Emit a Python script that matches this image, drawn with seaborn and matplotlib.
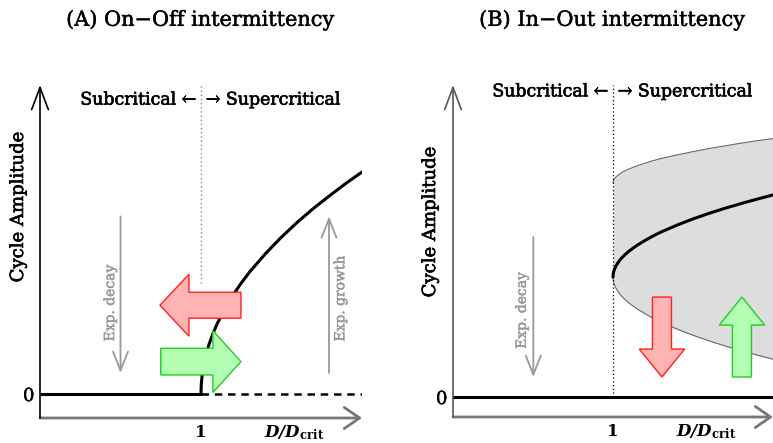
import numpy as np
import pandas as pd
import matplotlib
matplotlib.use("Agg")
import matplotlib.pyplot as plt
import matplotlib.patheffects as pe
import seaborn as sns

# ---------------- data ----------------
# Panel A: supercritical branch (amplitude vs D/Dcrit)
a_D = [1.0, 1.001, 1.003, 1.006, 1.01, 1.02, 1.035, 1.05, 1.075, 1.1, 1.15,
       1.2, 1.25, 1.3, 1.4, 1.5, 1.6, 1.7, 1.8, 1.9, 2.0]
a_amp = [0.0, 0.032, 0.055, 0.077, 0.1, 0.141, 0.187, 0.224, 0.274, 0.316, 0.387,
         0.447, 0.5, 0.548, 0.632, 0.707, 0.775, 0.837, 0.894, 0.949, 1.0]
a_zero_solid_D = [0.0, 1.0]
a_zero_dashed_D = [1.0, 2.0]

# Panel B: cycle branch and shaded band
b_D = [1.0, 1.001, 1.003, 1.006, 1.01, 1.02, 1.035, 1.05, 1.075, 1.1, 1.15,
       1.2, 1.25, 1.3, 1.4, 1.5, 1.6, 1.7, 1.8, 1.9, 2.0]
b_mid = [0.54, 0.552, 0.56, 0.568, 0.577, 0.592, 0.609, 0.623, 0.641, 0.657, 0.683,
         0.705, 0.725, 0.743, 0.774, 0.802, 0.827, 0.85, 0.871, 0.891, 0.91]
b_low = [0.54, 0.528, 0.52, 0.512, 0.503, 0.488, 0.471, 0.457, 0.439, 0.423, 0.397,
         0.375, 0.355, 0.337, 0.306, 0.278, 0.253, 0.23, 0.209, 0.189, 0.17]
b_up = [0.964, 0.97, 0.975, 0.979, 0.984, 0.992, 1.001, 1.009, 1.019, 1.027, 1.041,
        1.053, 1.064, 1.074, 1.09, 1.105, 1.119, 1.131, 1.143, 1.154, 1.164]
b_zero_D = [0.0, 2.0]

titles = ["(A) On\u2212Off intermittency", "(B) In\u2212Out intermittency"]
xtick_labels = ["1"]
ytick_labels = ["0"]
xlabel = r"$\mathbfit{D/D}_{\mathbf{crit}}$"
ylabel = "Cycle Amplitude"

sns.set_theme(style="white")
plt.rcParams["font.family"] = ["DejaVu Serif", "DejaVu Sans"]
plt.rcParams["mathtext.fontset"] = "dejavuserif"
plt.rcParams["text.color"] = "black"
plt.rcParams["xtick.color"] = "black"
plt.rcParams["ytick.color"] = "black"

fig = plt.figure(figsize=(7.73, 4.43), dpi=100)
axA = fig.add_axes([40 / 773, 25 / 443, 322 / 773, 333 / 443])
axB = fig.add_axes([453 / 773, 26 / 443, 320 / 773, 332 / 443])

GRAY_TXT = "#999999"
HEAVY = [pe.withStroke(linewidth=0.45, foreground="black")]
HEAVY_T = [pe.withStroke(linewidth=0.3, foreground="black")]
HEAVY_G = [pe.withStroke(linewidth=0.35, foreground=GRAY_TXT)]


def frame(ax, ymin, ymax, ycol):
    ax.set_xlim(0, 2)
    ax.set_ylim(ymin, ymax)
    for s in ax.spines.values():
        s.set_visible(False)
    ax.set_xticks([1.0])
    ax.set_xticklabels(xtick_labels, fontsize=12, fontweight="bold")
    ax.set_yticks([0.0])
    ax.set_yticklabels(ytick_labels, fontsize=13)
    for t in ax.get_yticklabels():
        t.set_path_effects(HEAVY_T)
    ax.tick_params(axis="x", direction="in", length=8, width=1.2, color="#666666",
                   pad=4, labelcolor="black")
    ax.tick_params(axis="y", length=0, pad=4, labelcolor="black")
    ax.set_xlabel("")
    ax.set_ylabel("")
    # axes arrows
    ax.annotate("", xy=(1.0, 0), xytext=(0, 0), xycoords="axes fraction",
                arrowprops=dict(arrowstyle="->, head_length=0.55, head_width=0.38",
                                mutation_scale=20, color="#777777", lw=2,
                                shrinkA=0, shrinkB=0), annotation_clip=False)
    ax.annotate("", xy=(0, 1.0), xytext=(0, 0), xycoords="axes fraction",
                arrowprops=dict(arrowstyle="->, head_length=0.8, head_width=0.3",
                                mutation_scale=20, color=ycol, lw=1.2,
                                shrinkA=0, shrinkB=0), annotation_clip=False)
    ax.text(0.79, -0.045, xlabel, transform=ax.transAxes,
            fontsize=12, ha="center", va="center")


frame(axA, -0.108, 1.392, "black")
frame(axB, -0.09, 1.405, "#555555")

# ---------------- Panel A ----------------
sns.lineplot(x=a_zero_solid_D, y=[0, 0], ax=axA, color="black", lw=2.2)
sns.lineplot(x=a_zero_dashed_D, y=[0, 0], ax=axA, color="black", lw=1.8,
             linestyle=(0, (3, 2.3)))
sns.lineplot(x=a_D, y=a_amp, ax=axA, color="black", lw=2.2, sort=False)
axA.plot([1, 1], [0.5, 1.392], color="#888888", lw=1, linestyle=(0, (1, 2)))
axA.text(0.97, 1.324, "Subcritical \u2190", ha="right", va="center", fontsize=12.5,
         path_effects=HEAVY)
axA.text(1.03, 1.324, "\u2192 Supercritical", ha="left", va="center", fontsize=12.5,
         path_effects=HEAVY)

# exponential decay / growth
axA.annotate("", xy=(0.5, 0.095), xytext=(0.5, 0.80),
             arrowprops=dict(arrowstyle="->, head_length=0.68, head_width=0.27",
                             mutation_scale=20, color=GRAY_TXT, lw=1.3, shrinkA=0, shrinkB=0))
axA.annotate("", xy=(1.795, 0.80), xytext=(1.795, 0.095),
             arrowprops=dict(arrowstyle="->, head_length=0.68, head_width=0.27",
                             mutation_scale=20, color=GRAY_TXT, lw=1.3, shrinkA=0, shrinkB=0))
axA.text(0.435, 0.41, "Exp. decay", rotation=90, ha="center", va="center",
         color=GRAY_TXT, fontsize=10, path_effects=HEAVY_G)
axA.text(1.865, 0.43, "Exp. growth", rotation=90, ha="center", va="center",
         color=GRAY_TXT, fontsize=10, path_effects=HEAVY_G)

axA.arrow(1.248, 0.40, -0.503, 0, width=0.117, head_width=0.279, head_length=0.18,
          length_includes_head=True, fc="#ffb3b3", ec="#ff2020", lw=1, zorder=4)
axA.arrow(0.75, 0.146, 0.498, 0, width=0.12, head_width=0.278, head_length=0.174,
          length_includes_head=True, fc="#b3ffb3", ec="#22cc22", lw=1, zorder=4)

# ---------------- Panel B ----------------
axB.fill_between(b_D, b_low, b_up, color="#dddddd", lw=0, zorder=1)
sns.lineplot(x=b_D, y=b_up, ax=axB, color="#666666", lw=0.8, sort=False)
sns.lineplot(x=b_D, y=b_low, ax=axB, color="#666666", lw=0.8, sort=False)
sns.lineplot(x=b_D, y=b_mid, ax=axB, color="black", lw=2.2, sort=False)
sns.lineplot(x=b_zero_D, y=[0, 0], ax=axB, color="black", lw=2.2)
axB.plot([1, 1], [0, 1.405], color="black", lw=0.9, linestyle=(0, (1, 2)), zorder=3)
axB.text(0.97, 1.374, "Subcritical \u2190", ha="right", va="center", fontsize=12.5,
         path_effects=HEAVY)
axB.text(1.03, 1.374, "\u2192 Supercritical", ha="left", va="center", fontsize=12.5,
         path_effects=HEAVY)

axB.annotate("", xy=(0.502, 0.09), xytext=(0.502, 0.72),
             arrowprops=dict(arrowstyle="->, head_length=0.68, head_width=0.27",
                             mutation_scale=20, color=GRAY_TXT, lw=1.3, shrinkA=0, shrinkB=0))
axB.text(0.43, 0.39, "Exp. decay", rotation=90, ha="center", va="center",
         color=GRAY_TXT, fontsize=10, path_effects=HEAVY_G)

axB.arrow(1.306, 0.45, 0, -0.36, width=0.119, head_width=0.284, head_length=0.126,
          length_includes_head=True, fc="#ffb3b3", ec="#ff2020", lw=1, zorder=4)
axB.arrow(1.806, 0.09, 0, 0.36, width=0.119, head_width=0.284, head_length=0.126,
          length_includes_head=True, fc="#b3ffb3", ec="#22cc22", lw=1, zorder=4)

# titles and y labels
fig.text(201 / 773, 1 - 20 / 443, titles[0], ha="center", va="center", fontsize=15,
         path_effects=HEAVY_T)
fig.text(613 / 773, 1 - 20 / 443, titles[1], ha="center", va="center", fontsize=15,
         path_effects=HEAVY_T)
fig.text(18 / 773, 1 - 207 / 443, ylabel, rotation=90, ha="center", va="center",
         fontsize=13, path_effects=HEAVY)
fig.text(430 / 773, 1 - 222 / 443, ylabel, rotation=90, ha="center", va="center",
         fontsize=13, path_effects=HEAVY)

fig.savefig("out.png", dpi=100)
